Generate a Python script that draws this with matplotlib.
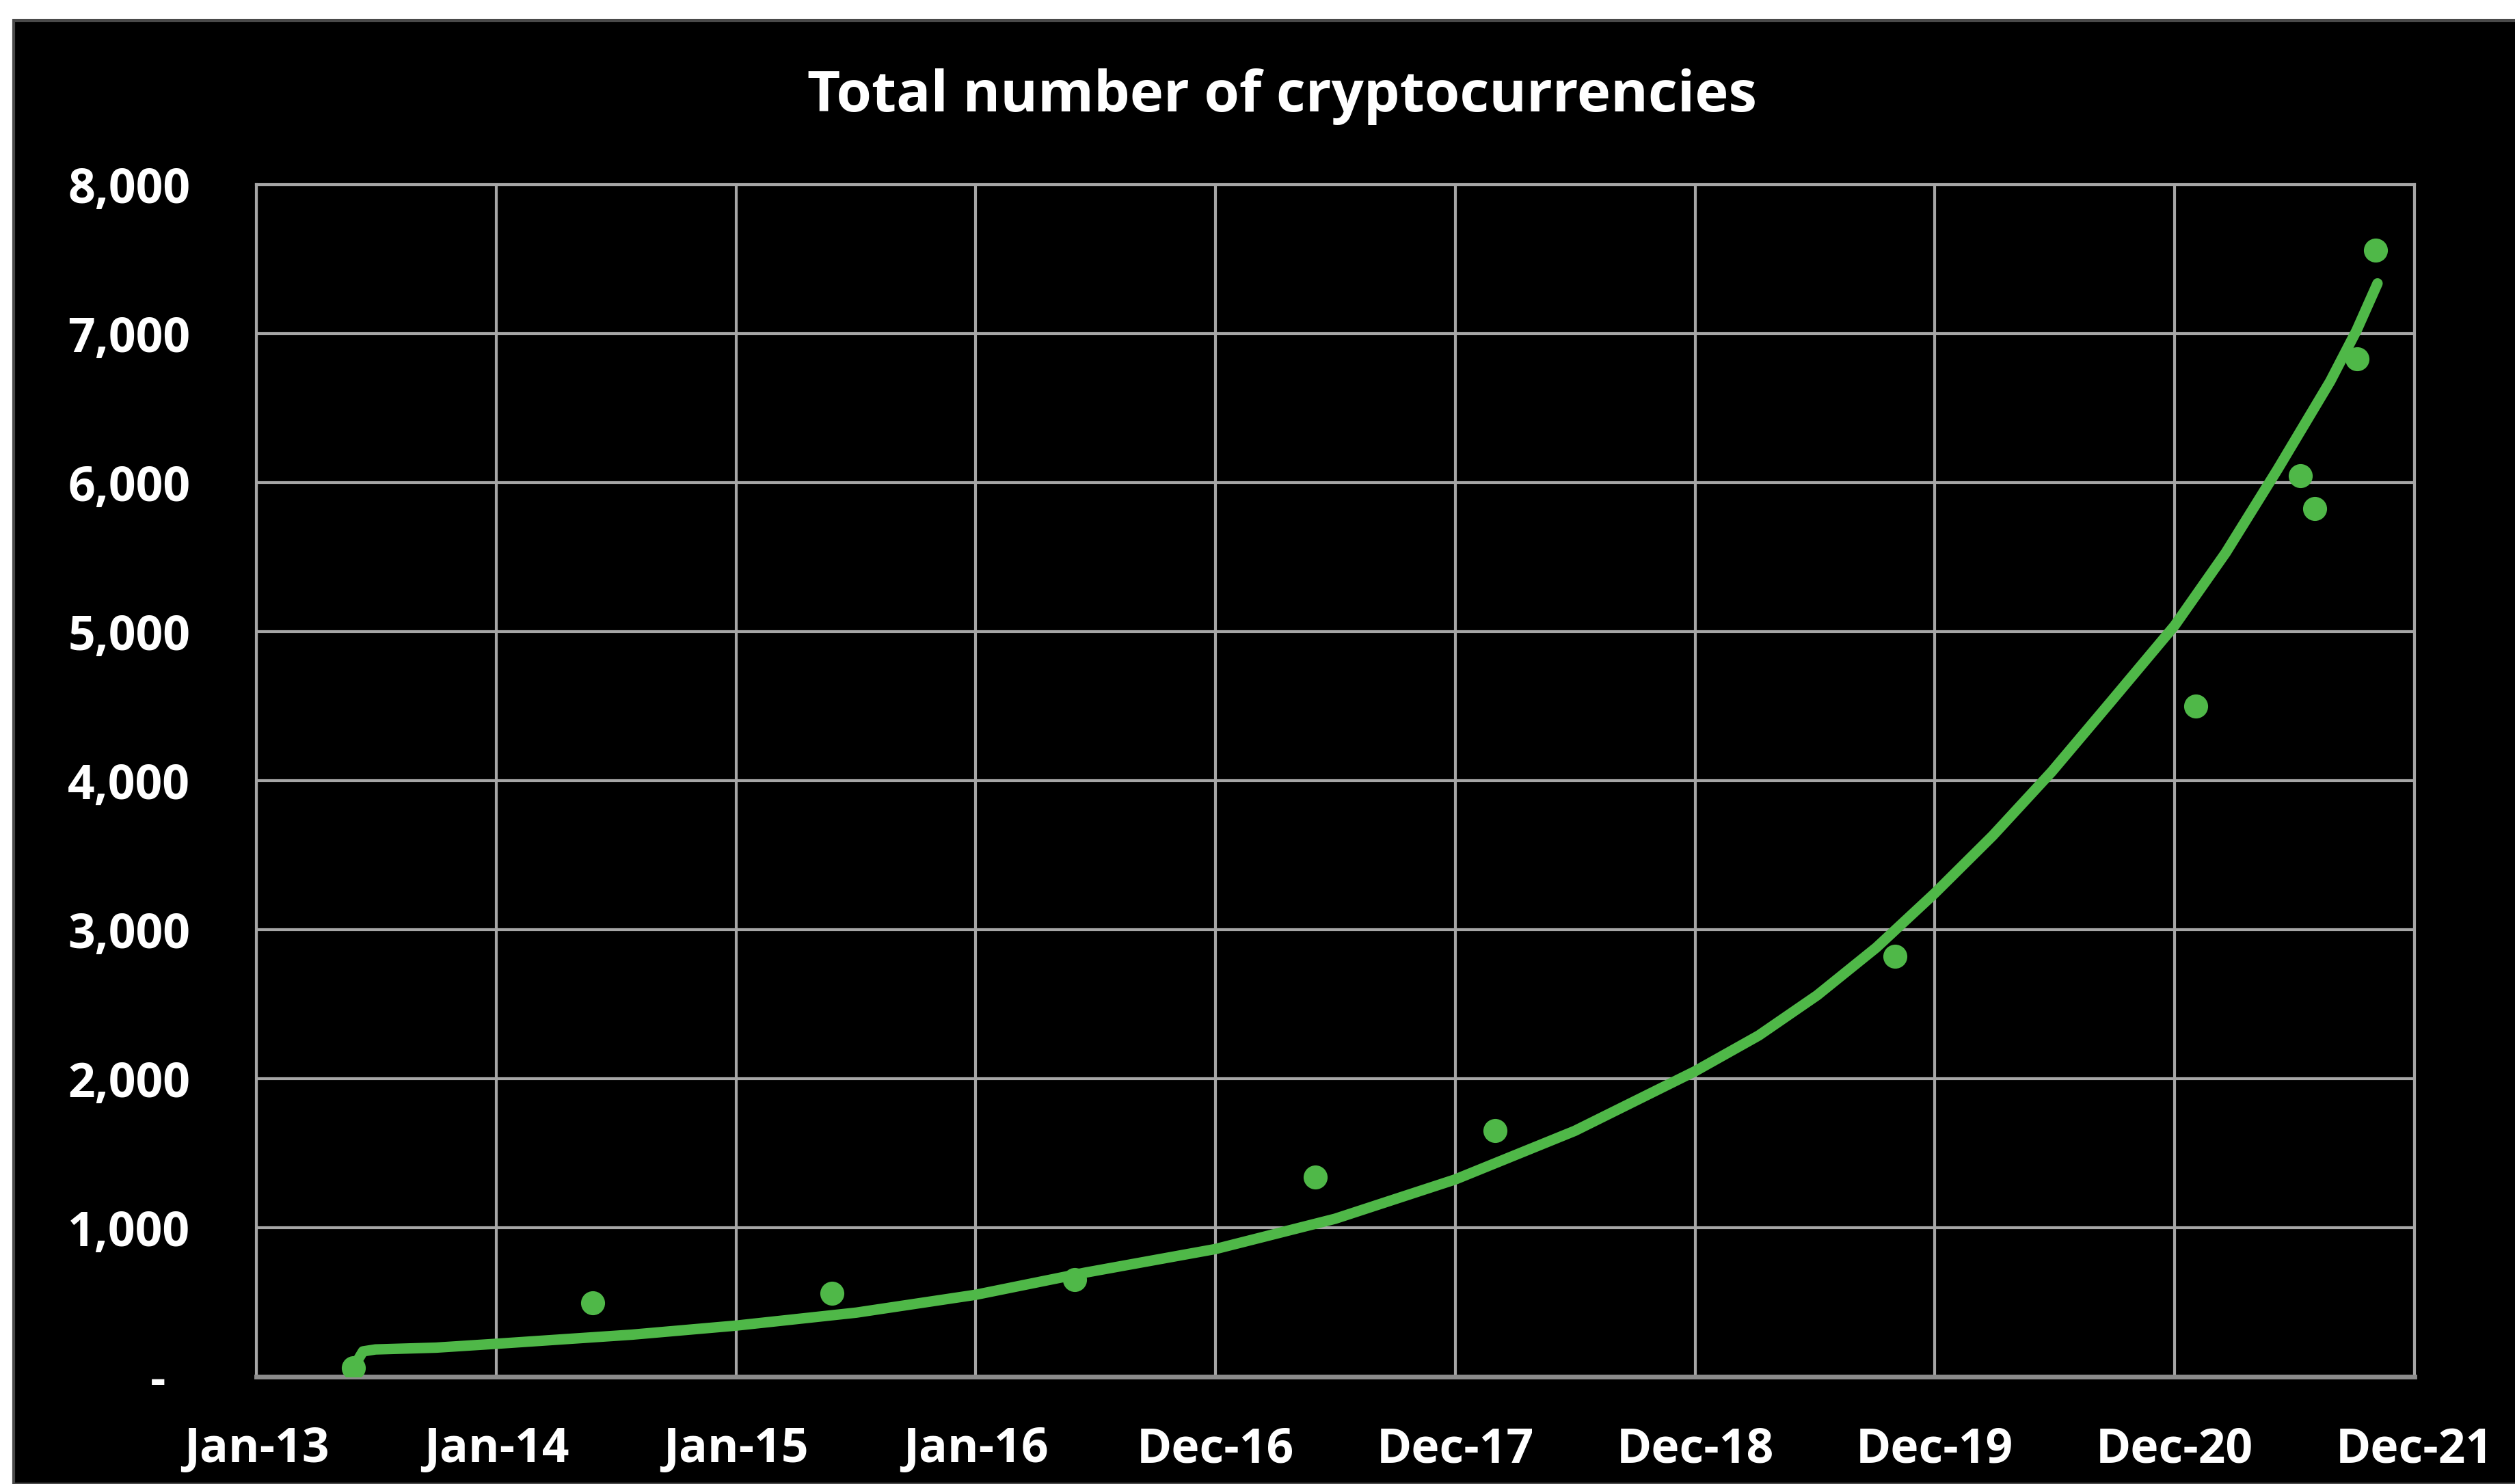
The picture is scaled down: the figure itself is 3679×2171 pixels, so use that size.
'''
Total number of cryptocurrencies, 2013-2021, with the fitted growth line
'''

import matplotlib
matplotlib.use('Agg')
from matplotlib import pyplot as plt
from matplotlib.patches import Rectangle
import pandas as pd

#data
point_dates = ['2013-05-28', '2014-05-28', '2015-05-27', '2016-05-30', '2017-06-01',
               '2018-03-01', '2019-10-31', '2021-01-31', '2021-07-10', '2021-07-31',
               '2021-10-04', '2021-11-01']
point_counts = [60, 495, 560, 650, 1339, 1653, 2823, 4500, 6047, 5824, 6829, 7560]

line_dates = ['2013-05-28', '2013-06-12', '2013-07-01', '2013-10-01', '2014-01-01',
              '2014-07-26', '2015-01-01', '2015-07-03', '2016-01-01', '2016-06-15',
              '2016-12-31', '2017-07-01', '2017-12-31', '2018-07-01', '2018-12-31',
              '2019-04-07', '2019-07-05', '2019-10-03', '2019-12-31', '2020-03-28',
              '2020-06-26', '2020-09-24', '2020-12-30', '2021-03-18', '2021-06-05',
              '2021-08-24', '2021-10-03', '2021-11-04']
line_counts = [60, 170, 183, 195, 221, 282, 343, 430, 550, 698, 857, 1060, 1324, 1650,
               2050, 2290, 2560, 2880, 3245, 3630, 4060, 4530, 5040, 5530, 6090, 6680,
               7020, 7337]

tick_dates = ['2013-01-01', '2014-01-01', '2015-01-01', '2016-01-01', '2016-12-31',
              '2017-12-31', '2018-12-31', '2019-12-31', '2020-12-30', '2021-12-30']
tick_labels = ['Jan-13', 'Jan-14', 'Jan-15', 'Jan-16', 'Dec-16', 'Dec-17', 'Dec-18',
               'Dec-19', 'Dec-20', 'Dec-21']
y_ticks = [0, 1000, 2000, 3000, 4000, 5000, 6000, 7000, 8000]
y_labels = ['-  ', '1,000', '2,000', '3,000', '4,000', '5,000', '6,000', '7,000', '8,000']

green = '#4fb848'
grid_col = '#a6a6a6'
plt.rcParams['font.family'] = ['Open Sans', 'DejaVu Sans']

fig = plt.figure(figsize=(36.8, 21.71), dpi=100, facecolor='white')
#black panel with a thin grey rim, white strip left and top
fig.patches.append(Rectangle((20/3680, 0), 1, 1 - 30/2171, transform=fig.transFigure,
                             facecolor='black', edgecolor='#4a4a4a', linewidth=3, zorder=-10))

ax = fig.add_axes([0.1020, 0.0723, 0.8577, 0.8033])
ax.set_facecolor('black')

px = pd.to_datetime(point_dates)
lx = pd.to_datetime(line_dates)
tx = pd.to_datetime(tick_dates)

ax.plot(lx, line_counts, color=green, linewidth=11, solid_capstyle='round',
        solid_joinstyle='round', zorder=3)
ax.scatter(px, point_counts, s=640, color=green, linewidths=0, zorder=4)

ax.set_xlim(tx[0], tx[-1])
ax.set_ylim(0, 8000)
ax.set_xticks(tx)
ax.set_xticklabels(tick_labels)
ax.set_yticks(y_ticks)
ax.set_yticklabels(y_labels)

ax.grid(True, color=grid_col, linewidth=3)
ax.set_axisbelow(True)
for s in ax.spines.values():
    s.set_color(grid_col)
    s.set_linewidth(3)
ax.spines['bottom'].set_color('#8c8c8c')
ax.spines['bottom'].set_linewidth(5)

ax.tick_params(axis='both', length=0, colors='white', labelsize=50)
ax.tick_params(axis='y', pad=70)
ax.tick_params(axis='x', pad=52)
for lab in ax.get_xticklabels() + ax.get_yticklabels():
    lab.set_fontweight('bold')

fig.text(0.5096, 0.935, 'Total number of cryptocurrencies', color='white',
         fontsize=60, fontweight='bold', ha='center', va='center')

plt.savefig('out.png', dpi=100, facecolor=fig.get_facecolor())
